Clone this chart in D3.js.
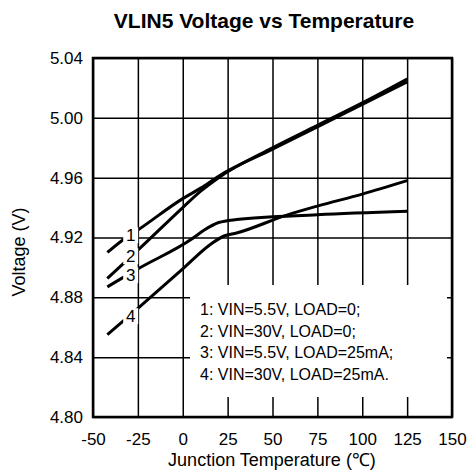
<!DOCTYPE html>
<html>
<head>
<meta charset="utf-8">
<script src="https://cdn.jsdelivr.net/npm/d3@7.8.5/dist/d3.min.js"></script>
<style>
  body { margin: 0; background: #fff; }
  svg { display: block; font-family: "Liberation Sans", Arial, sans-serif; }
</style>
</head>
<body>
<div id="chart"></div>
<script>
// data
const xTicks = [-50, -25, 0, 25, 50, 75, 100, 125, 150];
const yTicks = [4.80, 4.84, 4.88, 4.92, 4.96, 5.00, 5.04];

const temps1 = [-42, -33, -25, 0, 10, 20, 50, 75, 100, 125];
const volts1 = [4.910, 4.9187, 4.925, 4.946, 4.953, 4.961, 4.979, 4.994, 5.009, 5.024];

const temps2 = [-42, -25, 0, 10, 20, 50, 75, 100, 125];
const volts2 = [4.8926, 4.9115, 4.940, 4.951, 4.960, 4.980, 4.995, 5.010, 5.026];

const temps3 = [-42, -25, 5, 12, 20, 30, 75, 125];
const volts3 = [4.887, 4.899, 4.919, 4.925, 4.930, 4.932, 4.9352, 4.9375];

const temps4 = [-42, -25, 0, 15, 23, 30, 58, 75, 100, 125];
const volts4 = [4.855, 4.8726, 4.899, 4.915, 4.921, 4.923, 4.935, 4.941, 4.949, 4.958];

const curveIds = ['1', '2', '3', '4'];
const labelT = [-29, -29, -29, -29];
const labelV = [4.9215, 4.9075, 4.8948, 4.8674];

const legendLines = [
    '1: VIN=5.5V, LOAD=0;',
    '2: VIN=30V, LOAD=0;',
    '3: VIN=5.5V, LOAD=25mA;',
    '4: VIN=30V, LOAD=25mA.'
];

const width = 471, height = 472;
const margin = { top: 58, right: 19, bottom: 55, left: 93 };
const w = width - margin.left - margin.right;
const h = height - margin.top - margin.bottom;

const svg = d3.select('#chart').append('svg')
    .attr('width', width)
    .attr('height', height);

const g = svg.append('g')
    .attr('transform', `translate(${margin.left},${margin.top})`);

const x = d3.scaleLinear().domain([-50, 150]).range([0, w]);
const y = d3.scaleLinear().domain([4.80, 5.04]).range([h, 0]);

// grid + tick labels (plain hyphen for negatives, like the original)
const xAxis = g.append('g')
    .attr('transform', `translate(0,${h})`)
    .call(d3.axisBottom(x).tickValues(xTicks).tickSize(-h).tickPadding(16).tickFormat(d => String(d)));
const yAxis = g.append('g')
    .call(d3.axisLeft(y).tickValues(yTicks).tickSize(-w).tickPadding(10).tickFormat(d => d.toFixed(2)));

[xAxis, yAxis].forEach(ax => {
    ax.select('.domain').remove();
    ax.selectAll('line').attr('stroke', '#000').attr('stroke-width', 1.5);
    ax.selectAll('text').attr('fill', '#000').style('font-size', '17px');
});

// legend box covers the grid
g.append('rect')
    .attr('x', 190 - margin.left)
    .attr('y', 285 - margin.top)
    .attr('width', 257)
    .attr('height', 112)
    .attr('fill', '#fff');

legendLines.forEach((t, i) => {
    g.append('text')
        .attr('x', 200 - margin.left)
        .attr('y', 315 - margin.top + i * 21.7)
        .style('font-size', '16px')
        .attr('fill', '#000')
        .text(t);
});

// curves
const series = [
    temps1.map((t, i) => [t, volts1[i]]),
    temps2.map((t, i) => [t, volts2[i]]),
    temps3.map((t, i) => [t, volts3[i]]),
    temps4.map((t, i) => [t, volts4[i]])
];

const line = d3.line()
    .x(d => x(d[0]))
    .y(d => y(d[1]))
    .curve(d3.curveMonotoneX);

g.selectAll('.curve')
    .data(series)
    .enter()
    .append('path')
    .attr('class', 'curve')
    .attr('d', line)
    .attr('fill', 'none')
    .attr('stroke', '#000')
    .attr('stroke-width', 3);

// curve labels with white boxes
curveIds.forEach((id, i) => {
    const cx = x(labelT[i]), cy = y(labelV[i]);
    g.append('rect')
        .attr('x', cx - 7.5)
        .attr('y', cy - 8)
        .attr('width', 15)
        .attr('height', 16)
        .attr('fill', '#fff');
    g.append('text')
        .attr('x', cx)
        .attr('y', cy)
        .attr('dy', '0.36em')
        .attr('text-anchor', 'middle')
        .style('font-size', '17px')
        .attr('fill', '#000')
        .text(id);
});

// frame
g.append('rect')
    .attr('width', w)
    .attr('height', h)
    .attr('fill', 'none')
    .attr('stroke', '#000')
    .attr('stroke-width', 2.5);

// titles
svg.append('text')
    .attr('x', 264)
    .attr('y', 28)
    .attr('text-anchor', 'middle')
    .style('font-size', '21px')
    .style('font-weight', 'bold')
    .text('VLIN5 Voltage vs Temperature');

svg.append('text')
    .attr('x', 272)
    .attr('y', 466)
    .attr('text-anchor', 'middle')
    .style('font-size', '18px')
    .text('Junction Temperature (℃)');

svg.append('text')
    .attr('transform', 'translate(25,252) rotate(-90)')
    .attr('text-anchor', 'middle')
    .style('font-size', '18px')
    .text('Voltage (V)');
</script>
</body>
</html>
